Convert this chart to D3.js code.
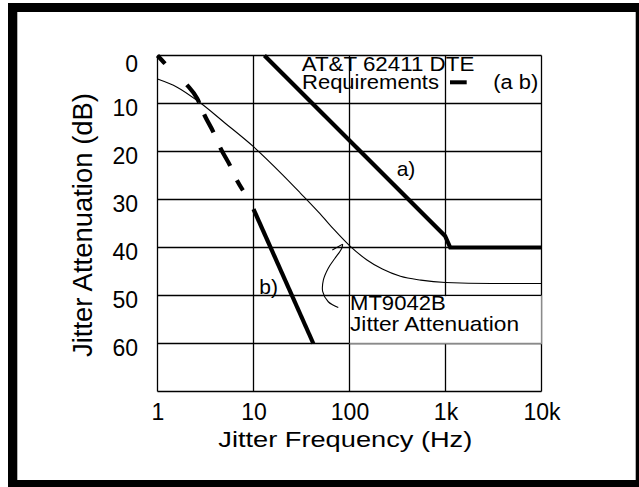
<!DOCTYPE html>
<html><head><meta charset="utf-8">
<script src="https://cdn.jsdelivr.net/npm/d3@7"></script>
<style>
body{margin:0;background:#fff}
text{font-family:"Liberation Sans",Arial,Helvetica,sans-serif;fill:#000}
</style>
</head><body>
<svg id="c" width="639" height="487"></svg>
<script>
// ---- data ----
const xTicks = [1, 10, 100, 1000, 10000];
const xTickLabels = ["1", "10", "100", "1k", "10k"];
const yTicks = [0, 10, 20, 30, 40, 50, 60];
const yGrid = [0, 10, 20, 30, 40, 50, 60, 70];
// AT&T 62411 requirement a) (Hz, dB)
const reqA = [[13, 0], [990, 37.6], [1120, 40], [10000, 40]];
// AT&T 62411 requirement b)
const reqB = [[10, 32], [42, 60]];
// dashed requirement segment
const reqDashed = [[1, 0], [1.2, 1.7], [2.0, 6.0], [2.6, 9.0], [3.1, 12.5], [3.83, 16], [4.5, 19.2], [5.72, 23], [6.71, 26], [7.76, 28.1]];
// frequency spans drawn as dashes on the dashed segment
const dashSpans = [[1, 1.2], [2.02, 2.72], [3.06, 3.83], [4.5, 5.72], [6.71, 7.76]];
// MT9042B jitter attenuation
const mt9042b = [[1, 4.9], [1.6, 6.6], [2.72, 9.7], [5, 14], [10, 19], [20, 24.8], [30.6, 28.6], [49.5, 33], [70, 36.4], [100, 39.6], [152, 42.6], [220, 44.5], [339, 46], [553, 46.8], [1000, 47.3], [3000, 47.5], [10000, 47.5]];
// annotation arrow (Hz, dB)
const arrowPath = [[76.4, 52.5], [60.1, 51.3], [52.6, 49.2], [53.4, 46.8], [60.1, 44.3], [70.6, 42.25], [82.9, 40.2], [84.9, 39.3]];
const arrowBarb = [[66.2, 40.5], [84.9, 39.3]];

const svg = d3.select("#c");
const W = 639, H = 487;

// frame
svg.append("rect").attr("x", 8).attr("y", 3).attr("width", W - 8).attr("height", H - 3).attr("fill", "#000");
svg.append("rect").attr("x", 17.3).attr("y", 12).attr("width", 635.7 - 17.3).attr("height", 480 - 12).attr("fill", "#fff");

const x = d3.scaleLog().domain([1, 10000]).range([157.5, 541.5]);
const y = d3.scaleLinear().domain([0, 70]).range([55.5, 391.5]);

// gridlines (as paths)
const grid = svg.append("g").attr("fill", "none").attr("stroke", "#000").attr("stroke-width", 1.3);
grid.selectAll("path.v").data(xTicks).join("path").attr("class", "v")
  .attr("d", d => `M${x(d)},${y(0)}V${y(70)}`);
grid.selectAll("path.h").data(yGrid).join("path").attr("class", "h")
  .attr("d", d => `M${x(1)},${y(d)}H${x(10000)}`);

// axis labels via axes (no tick lines)
const gx = svg.append("g").attr("transform", `translate(0,${y(70)})`)
  .call(d3.axisBottom(x).tickValues(xTicks).tickSize(0).tickPadding(12.2)
    .tickFormat((d, i) => xTickLabels[i]));
const gy = svg.append("g").attr("transform", `translate(${x(1)},0)`)
  .call(d3.axisLeft(y).tickValues(yTicks).tickSize(0).tickPadding(19.5));
[gx, gy].forEach(g => {
  g.select(".domain").remove();
  g.selectAll(".tick line").remove();
  g.selectAll(".tick text").attr("font-size", 23).attr("fill", "#000")
    .style("font-family", '"Liberation Sans",Arial,sans-serif');
});
gy.selectAll(".tick text").attr("dy", d => d === 0 ? "0.71em" : "0.5em");

// label box (white) over cells 100..10k, 50..60 dB
svg.append("rect").attr("x", x(100) + 0.7).attr("y", y(50) + 0.7)
  .attr("width", x(10000) - x(100) - 0.7).attr("height", y(60) - y(50) - 0.7).attr("fill", "#fff");
svg.append("path").attr("d", `M${x(10000)},${y(50)}V${y(60)}H${x(100)}`)
  .attr("fill", "none").attr("stroke", "#8a8a8a").attr("stroke-width", 1.3);

const line = d3.line().x(d => x(d[0])).y(d => y(d[1]));
const smooth = d3.line().x(d => x(d[0])).y(d => y(d[1])).curve(d3.curveMonotoneX);

// MT9042B curve
svg.append("path").attr("d", smooth(mt9042b)).attr("fill", "none").attr("stroke", "#000").attr("stroke-width", 1.1);

// requirements
svg.append("path").attr("d", line(reqA)).attr("fill", "none").attr("stroke", "#000").attr("stroke-width", 4.2).attr("stroke-linejoin", "miter");
svg.append("path").attr("d", line(reqB)).attr("fill", "none").attr("stroke", "#000").attr("stroke-width", 4.2);
const dashed = svg.append("path").attr("d", smooth(reqDashed)).attr("fill", "none").attr("stroke", "#000").attr("stroke-width", 4.2)
  .attr("stroke-dasharray", "11,30,20,16,19,17,21,16,14");
try {
  const node = dashed.node();
  const L = node.getTotalLength();
  const lenAtX = px => {
    let lo = 0, hi = L;
    for (let i = 0; i < 40; i++) {
      const mid = (lo + hi) / 2;
      if (node.getPointAtLength(mid).x < px) lo = mid; else hi = mid;
    }
    return (lo + hi) / 2;
  };
  const arr = [];
  let prev = null;
  dashSpans.forEach(([a, b]) => {
    const la = lenAtX(x(a)), lb = lenAtX(x(b));
    if (prev !== null) arr.push(Math.max(0, la - prev));
    arr.push(Math.max(0.1, lb - la));
    prev = lb;
  });
  arr.push(L + 10);
  if (L > 0 && arr.every(v => isFinite(v))) dashed.attr("stroke-dasharray", arr.map(v => v.toFixed(2)).join(","));
} catch (e) {}

// annotation arrow
const curv = d3.line().x(d => x(d[0])).y(d => y(d[1])).curve(d3.curveCatmullRom);
svg.append("path").attr("d", curv(arrowPath)).attr("fill", "none").attr("stroke", "#000").attr("stroke-width", 1.1);
svg.append("path").attr("d", line(arrowBarb)).attr("fill", "none").attr("stroke", "#000").attr("stroke-width", 1.1);

// texts
function txt(s, tx, ty, fs, len) {
  const t = svg.append("text").attr("x", tx).attr("y", ty).attr("font-size", fs).text(s);
  if (len) t.attr("textLength", len).attr("lengthAdjust", "spacingAndGlyphs");
  return t;
}
txt("AT&T 62411 DTE", 301.7, 70.7, 20, 172.6);
txt("Requirements", 302, 88.7, 20, 137);
svg.append("path").attr("d", "M450,82.3H466.7").attr("stroke", "#000").attr("stroke-width", 4);
txt("(a b)", 493.3, 88.7, 20, 45);
txt("a)", 396.7, 176, 21);
txt("b)", 259.3, 294, 21);
txt("MT9042B", 350, 310, 21, 95.7);
txt("Jitter Attenuation", 350, 330.7, 21, 169);

// axis titles
txt("Jitter Frequency (Hz)", 218.3, 446.7, 22.5, 254);
svg.append("text").attr("transform", "translate(92,357) rotate(-90)").attr("font-size", 27)
  .attr("textLength", 264).attr("lengthAdjust", "spacingAndGlyphs").text("Jitter Attenuation (dB)");
</script>
</body></html>
